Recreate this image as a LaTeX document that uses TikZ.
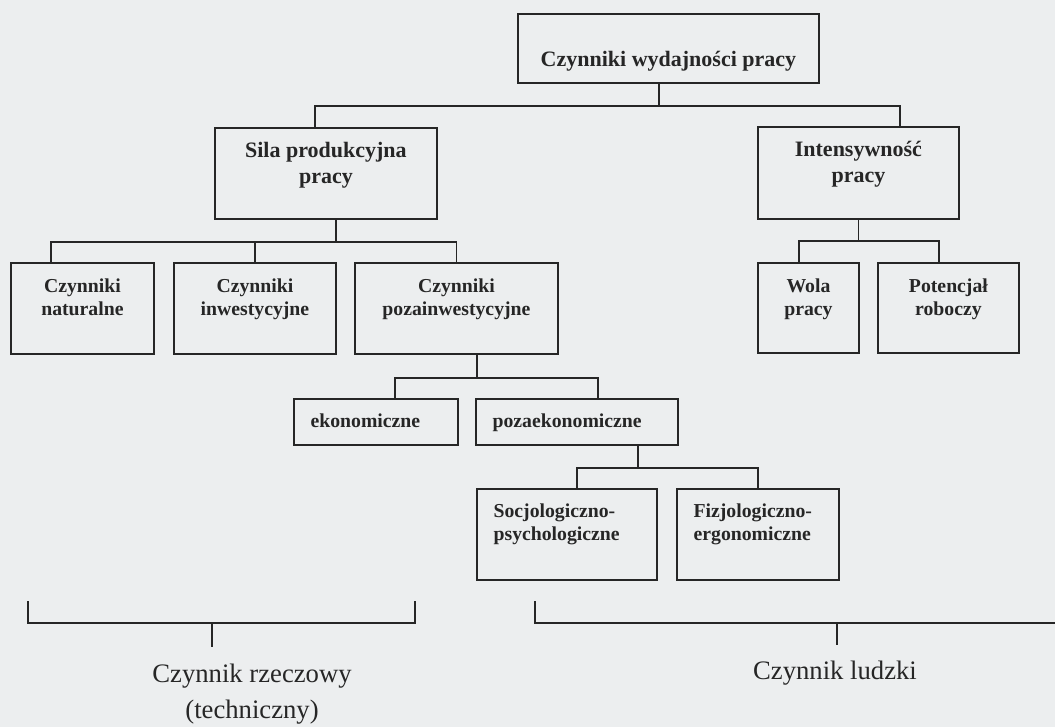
\documentclass[tikz,border=0pt]{standalone}
\usepackage{fontspec}
\setmainfont{Liberation Serif}
\usetikzlibrary{calc,positioning}
\definecolor{bgc}{RGB}{236,238,239}
\definecolor{ink}{RGB}{38,38,38}
\tikzset{
  box/.style 2 args={draw=ink, line width=1.4pt, anchor=north west, inner sep=0pt, minimum width=#1*0.75pt, minimum height=#2*0.75pt},
  tbig/.style={anchor=north, inner sep=0pt, align=center, text=ink, font=\bfseries\fontsize{16.5}{19.5}\selectfont},
  tmid/.style={anchor=north, inner sep=0pt, align=center, text=ink, yshift=-12.5pt, font=\bfseries\fontsize{14.8}{17}\selectfont},
  tlow/.style={anchor=north west, inner sep=0pt, align=left, text=ink, xshift=13pt, yshift=-11.5pt, font=\bfseries\fontsize{14.8}{17.5}\selectfont},
  bot/.style={anchor=north, inner sep=0pt, align=center, text=ink, font=\fontsize{20}{27}\selectfont},
  con/.style={draw=ink, line width=1.2pt},
}
\begin{document}
\begin{tikzpicture}[x=0.75pt,y=-0.75pt]
\useasboundingbox (0,0) rectangle (1055,727);
\fill[bgc] (0,0) rectangle (1055,727);
\node[box={301}{69}, label={[tbig,yshift=-28.5pt]north:Czynniki wydajności pracy}] (wyd) at (517,13) {};
\node[box={222}{91}, label={[tbig,yshift=-11pt]north:{Sila produkcyjna\\pracy}}] (sila) at (214,127) {};
\node[box={201}{92}, label={[tbig,yshift=-11pt]north:{Intensywność\\pracy}}] (inten) at (757,126) {};
\node[box={143}{91}, label={[tmid]north:{Czynniki\\naturalne}}] (natur) at (10,262) {};
\node[box={162}{91}, label={[tmid]north:{Czynniki\\inwestycyjne}}] (inwest) at (173,262) {};
\node[box={203}{91}, label={[tmid]north:{Czynniki\\pozainwestycyjne}}] (pozainw) at (354,262) {};
\node[box={101}{90}, label={[tmid]north:{Wola\\pracy}}] (wola) at (757,262) {};
\node[box={141}{90}, label={[tmid]north:{Potencjał\\roboczy}}] (poten) at (877,262) {};
\node[box={164}{46}, label={[tlow]north west:ekonomiczne}] (ekon) at (293,398) {};
\node[box={202}{46}, label={[tlow]north west:pozaekonomiczne}] (pozaek) at (475,398) {};
\node[box={180}{91}, label={[tlow]north west:{Socjologiczno-\\psychologiczne}}] (socjo) at (476,488) {};
\node[box={162}{91}, label={[tlow]north west:{Fizjologiczno-\\ergonomiczne}}] (fizjo) at (676,488) {};
\draw[con] ($(wyd.south)+(-9.5,0)$) -- ++(0,22) coordinate (b1);
\draw[con] ($(sila.north)+(-11,0)$) |- (b1) -| ($(inten.north)+(41.5,0)$);
\draw[con] ($(sila.south)+(10,0)$) -- ++(0,22) coordinate (b2);
\draw[con] ($(natur.north)+(-31.5,0)$) |- (b2) -| (pozainw.north);
\draw[con] (inwest.north) -- (inwest.north |- b2);
\draw[con] (inten.south) -- ++(0,21) coordinate (b3);
\draw[con] ($(wola.north)+(-9.5,0)$) |- (b3) -| ($(poten.north)+(-9.5,0)$);
\draw[con] ($(pozainw.south)+(20.5,0)$) -- ++(0,23) coordinate (b4);
\draw[con] ($(ekon.north)+(19,0)$) |- (b4) -| ($(pozaek.north)+(21,0)$);
\draw[con] ($(pozaek.south)+(61,0)$) -- ++(0,22) coordinate (b5);
\draw[con] ($(socjo.north)+(10,0)$) |- (b5) -| (fizjo.north);
\coordinate (rz1) at (28,601);
\coordinate (rz2) at (415,601);
\coordinate (lu1) at (535,601);
\coordinate (lu2) at (1055,623);
\draw[con, line width=1.4pt] (rz1) |- (415,623) -- (rz2);
\draw[con, line width=1.4pt] (212,623) -- ++(0,24);
\draw[con, line width=1.4pt] (lu1) |- (lu2);
\draw[con, line width=1.4pt] (837,623) -- ++(0,22);
\node[bot] (rzecz) at (252,664) {Czynnik rzeczowy\\(techniczny)};
\node[bot] (ludz) at (835,661) {Czynnik ludzki};
\end{tikzpicture}
\end{document}
